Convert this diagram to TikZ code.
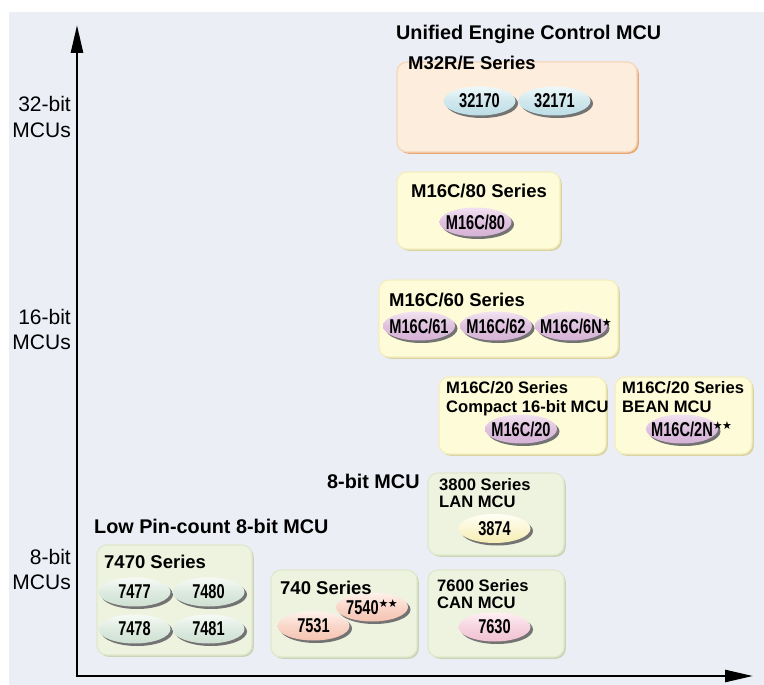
\documentclass[tikz,border=0pt]{standalone}
\usepackage{fontspec}
\setmainfont{Liberation Sans}
\newfontfamily\condf[FakeStretch=0.73]{Liberation Sans}
\newfontfamily\symf{DejaVu Sans}
\usetikzlibrary{shapes.geometric,shadows,arrows.meta}
\definecolor{bg}{HTML}{ECEEF6}
\definecolor{peachF}{HTML}{FDEDDC}
\definecolor{peachD}{HTML}{F6D6B8}
\definecolor{peachS}{HTML}{E8A870}
\definecolor{ylwF}{HTML}{FEFCD8}
\definecolor{ylwD}{HTML}{F3EDC0}
\definecolor{ylwS}{HTML}{D9D3A0}
\definecolor{grnF}{HTML}{EEF3DF}
\definecolor{grnD}{HTML}{E0E8CC}
\definecolor{grnS}{HTML}{CBD3B6}
\definecolor{bluI}{HTML}{EEF8F9}
\definecolor{bluO}{HTML}{BCDDE5}
\definecolor{purI}{HTML}{F2E2F1}
\definecolor{purO}{HTML}{D6B3D6}
\definecolor{gnI}{HTML}{F6FAF6}
\definecolor{gnO}{HTML}{CEE0D2}
\definecolor{salI}{HTML}{FEF2EC}
\definecolor{salO}{HTML}{F5C3B1}
\definecolor{yeI}{HTML}{FFFFF6}
\definecolor{yeO}{HTML}{F6EDB2}
\definecolor{pkI}{HTML}{FEF0F4}
\definecolor{pkO}{HTML}{F1C1D2}
\newcommand{\mcuH}{\fontsize{19.8}{22}\selectfont\bfseries}
\newcommand{\mcuS}{\fontsize{18.5}{20}\selectfont\bfseries}
\newcommand{\mcuT}{\fontsize{16.6}{18}\selectfont\bfseries}
\newcommand{\mcuE}{\condf\fontsize{20}{22}\selectfont\bfseries}
\newcommand{\mcuA}{\fontsize{21}{23}\selectfont}
\newcommand{\onestar}{\raisebox{6.5pt}{\symf\bfseries\fontsize{11}{11}\selectfont ★}}
\newcommand{\twostar}{\raisebox{6.5pt}{\symf\bfseries\fontsize{11}{11}\selectfont ★\kern-0.5pt★}}
\newcommand{\chip}[5]{%
  \node[chip,#4] (#1) at (#2,#3) {};
  \node[chiptext] (#1t) at (#1.center) {#5};
}
\tikzset{
  chip/.style={ellipse, minimum width=72pt, minimum height=29pt, inner sep=0pt,
    drop shadow={shadow xshift=2.5pt, shadow yshift=-2.5pt, fill=black!55, opacity=1}},
  chiptext/.style={inner sep=0pt, font=\mcuE},
  cblu/.style={top color=bluI, bottom color=bluO, middle color=bluO!60!bluI},
  cpur/.style={top color=purI, bottom color=purO, middle color=purO!70!purI},
  cgn/.style={top color=gnI, bottom color=gnO, middle color=gnO!60!gnI},
  csal/.style={top color=salI, bottom color=salO, middle color=salO!60!salI},
  cye/.style={top color=yeI, bottom color=yeO, middle color=yeO!50!yeI},
  cpk/.style={top color=pkI, bottom color=pkO, middle color=pkO!60!pkI},
  boxbase/.style={rectangle, rounded corners=10pt, inner sep=0pt, line width=1.2pt},
  bpeach/.style={boxbase, fill=peachF, draw=peachD,
    drop shadow={shadow xshift=1.8pt, shadow yshift=-1.8pt, fill=peachS, opacity=1}},
  bylw/.style={boxbase, fill=ylwF, draw=ylwD,
    drop shadow={shadow xshift=1.8pt, shadow yshift=-1.8pt, fill=ylwS, opacity=1}},
  bgrn/.style={boxbase, fill=grnF, draw=grnD,
    drop shadow={shadow xshift=1.8pt, shadow yshift=-1.8pt, fill=grnS, opacity=1}},
  head/.style={inner sep=0pt, anchor=base west, font=\mcuH},
  stitle/.style={inner sep=0pt, anchor=base west, font=\mcuS},
  ttitle/.style={inner sep=0pt, anchor=base west, font=\mcuT},
  axlab/.style={inner sep=0pt, anchor=base east, font=\mcuA},
  axis/.style={line width=2.7pt, line join=miter,
    {Triangle[length=28pt,width=12pt]}-{Triangle[length=28pt,width=12pt]}}
}
\begin{document}
\begin{tikzpicture}[x=1pt,y=-1pt]
\useasboundingbox (0,0) rectangle (764,685);
\fill[bg] (9,12) rectangle (764,685);

% axes
\coordinate (O) at (77,676);
\coordinate (Ytip) at (77,25);
\coordinate (Xtip) at (753,676);
\draw[axis] (Ytip) -- (O) -- (Xtip);

% axis labels
\node[axlab] (l32a) at (71,112) {32-bit};
\node[axlab] (l32b) at (71,137) {MCUs};
\node[axlab] (l16a) at (71,324) {16-bit};
\node[axlab] (l16b) at (71,349) {MCUs};
\node[axlab] (l8a) at (71,564) {8-bit};
\node[axlab] (l8b) at (71,589) {MCUs};

% headings
\node[head] (hUni) at (396,40) {Unified Engine Control MCU};
\node[head] (h8) at (327,488) {8-bit MCU};
\node[head] (hLow) at (94,533) {Low Pin-count 8-bit MCU};

% boxes
\node[bpeach, minimum width=240pt, minimum height=90pt] (bme) at (517,107) {};
\node[bylw, minimum width=163pt, minimum height=77pt] (b80) at (478.5,210.5) {};
\node[bylw, minimum width=239pt, minimum height=77pt] (b60) at (498.5,318.5) {};
\node[bylw, minimum width=167pt, minimum height=77pt] (b20) at (522.5,415.5) {};
\node[bylw, minimum width=137pt, minimum height=77pt] (b2n) at (683.5,415.5) {};
\node[bgrn, minimum width=136pt, minimum height=82pt] (b38) at (496,514) {};
\node[bgrn, minimum width=155pt, minimum height=110pt] (b74) at (174.5,600) {};
\node[bgrn, minimum width=146pt, minimum height=87pt] (b740) at (344,613.5) {};
\node[bgrn, minimum width=136pt, minimum height=87pt] (b76) at (496,613.5) {};

% chips
\chip{e32170}{479.5}{101}{cblu}{32170}
\chip{e32171}{554.5}{101}{cblu}{32171}
\chip{e80}{475.5}{222}{cpur}{M16C/80}
\chip{e61}{419}{326}{cpur}{M16C/61}
\chip{e62}{496}{326}{cpur}{M16C/62}
\chip{e6N}{571}{326}{cpur}{M16C/6N\rlap{\onestar}}
\chip{e20}{521}{429}{cpur}{M16C/20}
\chip{e2N}{682}{429}{cpur}{M16C/2N\rlap{\twostar}}
\chip{e3874}{494.5}{528.5}{cye}{3874}
\chip{e7477}{134.5}{592}{cgn}{7477}
\chip{e7480}{208.5}{592}{cgn}{7480}
\chip{e7478}{134.5}{629}{cgn}{7478}
\chip{e7481}{208.5}{629}{cgn}{7481}
\chip{e7531}{313.5}{626}{csal}{7531}
\chip{e7540}{372}{607}{csal}{7540\twostar}
\chip{e7630}{494.5}{627}{cpk}{7630}

% box titles
\node[stitle] (tme) at (408,70) {M32R/E Series};
\node[stitle, anchor=base] (t80) at (479,197) {M16C/80 Series};
\node[stitle] (t60) at (389,306) {M16C/60 Series};
\node[ttitle] (t20a) at (446,393) {M16C/20 Series};
\node[ttitle] (t20b) at (446,412) {Compact 16-bit MCU};
\node[ttitle] (t2na) at (622,393) {M16C/20 Series};
\node[ttitle] (t2nb) at (622,412) {BEAN MCU};
\node[ttitle] (t38a) at (439,490) {3800 Series};
\node[ttitle] (t38b) at (439,507) {LAN MCU};
\node[stitle] (t74) at (104,568) {7470 Series};
\node[stitle] (t740) at (280,594) {740 Series};
\node[ttitle] (t76a) at (437,591) {7600 Series};
\node[ttitle] (t76b) at (437,608) {CAN MCU};
\end{tikzpicture}
\end{document}
